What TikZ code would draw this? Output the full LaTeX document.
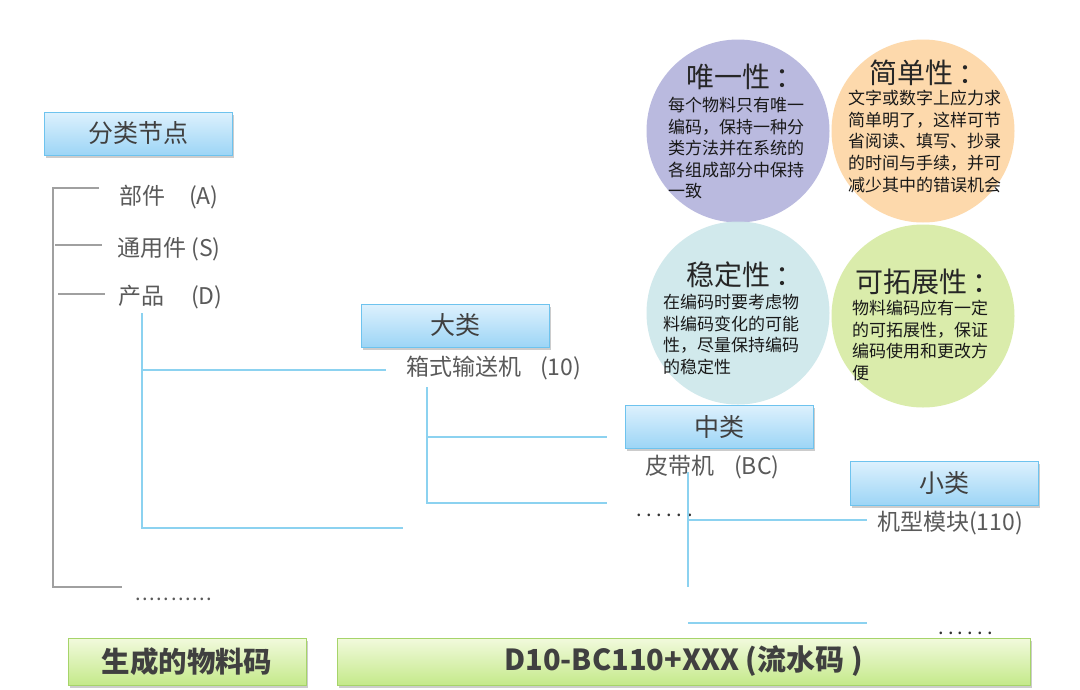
\documentclass[tikz,border=0pt]{standalone}
\usepackage{fontspec}
\setmainfont{Noto Sans CJK SC}
\usetikzlibrary{shadows}
\definecolor{boxborder}{HTML}{6EC3EE}
\definecolor{boxtop}{HTML}{DDF1FD}
\definecolor{boxbot}{HTML}{9DD5F6}
\definecolor{gborder}{HTML}{A6D46A}
\definecolor{gtop}{HTML}{F2FADD}
\definecolor{gbot}{HTML}{C4E98A}
\definecolor{textdark}{HTML}{404040}
\definecolor{labelgray}{HTML}{5A5A5A}
\definecolor{treegray}{HTML}{A0A0A0}
\definecolor{treeblue}{HTML}{8CD2F0}
\definecolor{cpurple}{HTML}{B3B3DC}
\definecolor{corange}{HTML}{FDD5A3}
\definecolor{ccyan}{HTML}{CCE7EA}
\definecolor{cgreen}{HTML}{D7EAA2}
\newcommand\dotseq[2]{\foreach \i in {1,...,#1}{.\kern#2}}
\begin{document}
\begin{tikzpicture}[x=1pt,y=-1pt,
  catbox/.style={draw=boxborder, line width=1pt, top color=boxtop, bottom color=boxbot,
    minimum width=188pt, minimum height=43pt, inner sep=0pt,
    drop shadow={shadow xshift=1.5pt, shadow yshift=-2.5pt, opacity=0.4},
    font=\fontsize{25}{25}\selectfont, text=textdark},
  codebox/.style={draw=gborder, line width=1pt, top color=gtop, bottom color=gbot,
    minimum height=47pt, inner sep=0pt,
    drop shadow={shadow xshift=1.5pt, shadow yshift=-2.5pt, opacity=0.4},
    font=\fontsize{28.5}{28.5}\selectfont\bfseries, text=textdark},
  lbl/.style={anchor=west, inner sep=0pt, font=\fontsize{23}{23}\selectfont, text=labelgray},
  bubble/.style={circle, minimum size=183pt, inner sep=0pt, fill opacity=0.9},
  btitle/.style={anchor=west, inner sep=0pt, font=\fontsize{28}{28}\selectfont, text=black!85},
  bbody/.style={anchor=north west, inner sep=0pt, align=left, font=\fontsize{17}{21.6}\selectfont, text=black!90},
  gline/.style={draw=treegray, line width=1.8pt},
  bline/.style={draw=treeblue, line width=1.8pt},
  dotrow/.style={anchor=base west, inner sep=0pt, font=\fontsize{20}{20}\selectfont, text=labelgray}
]
\useasboundingbox (0,0) rectangle (1080,689);
\fill[white] (0,0) rectangle (1080,689);

% bubbles
\node[bubble, fill=cpurple] (c1) at (738,131) {};
\node[bubble, fill=corange] (c2) at (923,131) {};
\node[bubble, fill=ccyan] (c3) at (738,313) {};
\node[bubble, fill=cgreen] (c4) at (923,316) {};

\node[btitle] (t1) at (686,77) {唯一性\kern5pt：};
\node[bbody] (b1) at (668,97) {每个物料只有唯一\\编码，保持一种分\\类方法并在系统的\\各组成部分中保持\\一致};
\node[btitle] (t2) at (869,73) {简单性\kern5pt：};
\node[bbody] (b2) at (848,90) {文字或数字上应力求\\简单明了，这样可节\\省阅读、填写、抄录\\的时间与手续，并可\\减少其中的错误机会};
\node[btitle] (t3) at (686,275) {稳定性\kern5pt：};
\node[bbody] (b3) at (663,294) {在编码时要考虑物\\料编码变化的可能\\性，尽量保持编码\\的稳定性};
\node[btitle] (t4) at (855,282) {可拓展性\kern5pt：};
\node[bbody] (b4) at (852,300) {物料编码应有一定\\的可拓展性，保证\\编码使用和更改方\\便};

% category boxes
\node[catbox] (root) at (138,133.5) {分类节点};
\node[catbox] (big) at (455,325.5) {大类};
\node[catbox] (mid) at (719,426.5) {中类};
\node[catbox, minimum height=44pt] (small) at (944.5,483) {小类};

% tree (gray)
\coordinate (g0) at (53,188);
\coordinate (g0e) at (99,188);
\coordinate (g1) at (55,245);
\coordinate (g1e) at (102,245);
\coordinate (g2) at (58,294);
\coordinate (g2e) at (105,294);
\coordinate (gb) at (53,587);
\coordinate (gbe) at (122,587);
\draw[gline] (g0e) -- (g0) -- (gb) -- (gbe);
\draw[gline] (g1) -- (g1e);
\draw[gline] (g2) -- (g2e);

\node[lbl] (la) at (119,197) {部件\hspace*{24pt}(A)};
\node[lbl] (ls) at (117,249) {通用件 (S)};
\node[lbl] (ld) at (118,297) {产品\hspace*{27pt}(D)};
\node[dotrow] (d1) at (135,600) {\dotseq{11}{1.6pt}};

% tree (blue) level 1
\coordinate (p0) at (142,313);
\coordinate (p1) at (142,370);
\coordinate (p1e) at (386,370);
\coordinate (p2) at (142,528);
\coordinate (p2e) at (403,528);
\draw[bline] (p0) -- (p2) -- (p2e);
\draw[bline] (p1) -- (p1e);
\node[lbl] (l10) at (406,368) {箱式输送机\hspace*{19pt}(10)};

% level 2
\coordinate (q0) at (427,387);
\coordinate (q1) at (427,437);
\coordinate (q1e) at (607,437);
\coordinate (q2) at (427,503);
\coordinate (q2e) at (607,503);
\draw[bline] (q0) -- (q2) -- (q2e);
\draw[bline] (q1) -- (q1e);
\node[lbl] (lbc) at (645,467) {皮带机\hspace*{20pt}(BC)};
\node[dotrow, text=black!80] (d2) at (636,516) {\dotseq{6}{4.6pt}};

% level 3
\coordinate (r0) at (688,472);
\coordinate (r0e) at (688,587);
\coordinate (r1) at (688,520);
\coordinate (r1e) at (867,520);
\coordinate (r2) at (688,623);
\coordinate (r2e) at (867,623);
\draw[bline] (r0) -- (r0e);
\draw[bline] (r1) -- (r1e);
\draw[bline] (r2) -- (r2e);
\node[lbl] (l110) at (877,523) {机型模块(110)};
\node[dotrow, text=black!80] (d3) at (938,634) {\dotseq{6}{4.3pt}};

% code boxes
\node[codebox, minimum width=238pt] (gen) at (187,661.5) {生成的物料码};
\node[codebox, minimum width=693pt, font=\fontsize{29}{29}\selectfont\bfseries] (code) at (683.5,661.5) {D10-BC110+XXX (流水码 )};
\end{tikzpicture}
\end{document}
